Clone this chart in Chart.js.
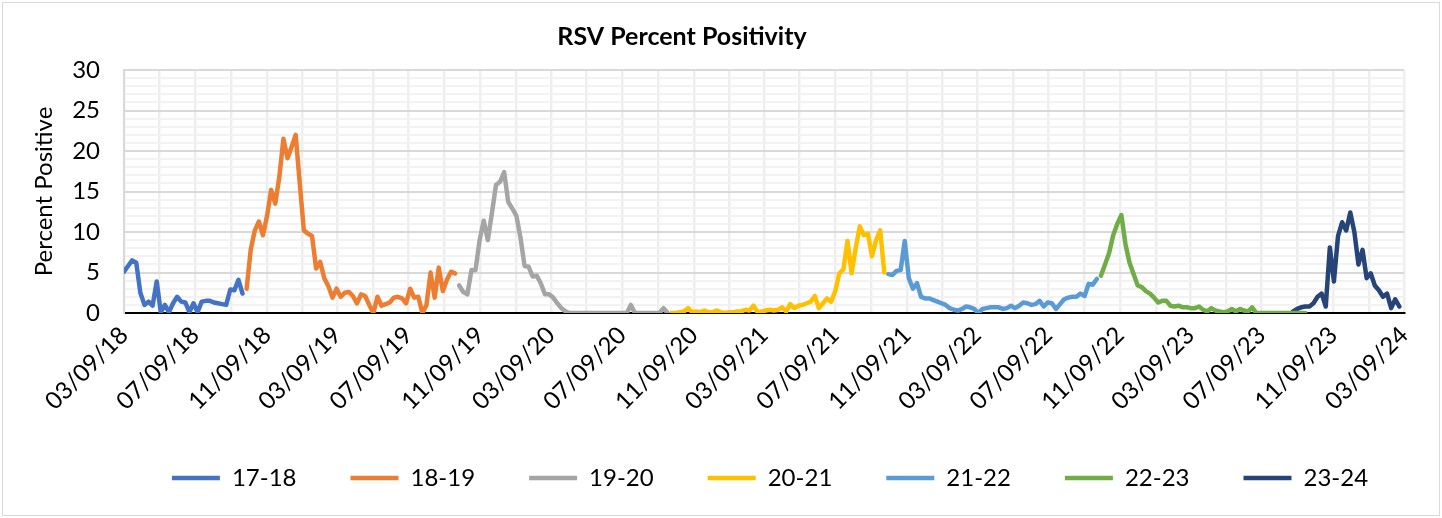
<!DOCTYPE html>
<html>
<head>
<meta charset="utf-8">
<script src="https://cdn.jsdelivr.net/npm/chart.js@4.4.1/dist/chart.umd.min.js"></script>
<style>
  html, body { margin: 0; padding: 0; background: #fff; }
  #wrap { position: relative; width: 1442px; height: 518px; }
  #frame { position: absolute; left: 2px; top: 2px; right: 2px; bottom: 2px; border: 1px solid #d9d9d9; pointer-events: none; }
</style>
</head>
<body>
<div id="wrap">
  <canvas id="rsv" width="1442" height="518"></canvas>
  <div id="frame"></div>
</div>
<script>
// ─── DATA ────────────────────────────────────────────────────────
// tanggal label sumbu X (MM/DD/YY), tiap 4 bulan
const xTickLabels = ['03/09/18','07/09/18','11/09/18','03/09/19','07/09/19','11/09/19',
  '03/09/20','07/09/20','11/09/20','03/09/21','07/09/21','11/09/21','03/09/22','07/09/22',
  '11/09/22','03/09/23','07/09/23','11/09/23','03/09/24'];

const seasons    = ['17-18','18-19','19-20','20-21','21-22','22-23','23-24'];
const colors     = ['#4472C4','#ED7D31','#A5A5A5','#FFC000','#5B9BD5','#70AD47','#264478'];
// minggu pertama tiap musim (dihitung dari 03/09/18)
const startWeeks = [0, 30, 82, 134, 187, 239, 286];

const pos1718 = [5.1, 5.8, 6.5, 6.2, 2.5, 1.0, 1.4, 0.9, 3.9, 0.1, 1.0, 0.1, 1.2, 2.0, 1.4,
  1.3, 0.1, 1.2, 0.1, 1.4, 1.5, 1.5, 1.3, 1.2, 1.1, 1.0, 2.9, 2.8, 4.1, 2.4];
const pos1819 = [3.0, 7.8, 10.2, 11.3, 9.6, 12.0, 15.2, 13.5, 16.8, 21.5, 19.1, 20.5, 22.0, 16.0,
  10.2, 9.8, 9.5, 5.5, 6.3, 4.3, 3.3, 1.9, 3.0, 2.0, 2.5, 2.6, 2.1, 1.2, 2.3, 2.1, 1.0, 0,
  2.0, 0.9, 1.1, 1.3, 1.9, 2.0, 1.8, 1.2, 3.0, 1.9, 2.0, 0, 1.0, 5.0, 1.9, 5.6, 2.7, 4.1, 5.1, 4.9];
const pos1920 = [3.4, 2.6, 2.3, 5.3, 5.3, 9.0, 11.4, 9.0, 12.3, 15.8, 16.2, 17.4, 13.7, 12.9,
  12.0, 9.3, 5.8, 5.7, 4.5, 4.6, 3.6, 2.3, 2.3, 1.9, 1.2, 0.6, 0.2, 0,
  0, 0, 0, 0, 0, 0, 0, 0, 0, 0, 0, 0, 0, 0, 1.0, 0, 0, 0, 0, 0, 0, 0, 0.6, 0];
const pos2021 = [0, 0, 0.1, 0.2, 0.6, 0.1, 0.2, 0.1, 0.3, 0.1, 0.1, 0.3, 0.1, 0, 0.1, 0.1, 0.2,
  0.2, 0.4, 0.3, 0.9, 0.1, 0.2, 0.3, 0.4, 0.3, 0.4, 0.7, 0.2, 1.1, 0.6, 0.9, 1.0, 1.2, 1.4, 2.1,
  0.6, 1.2, 1.8, 1.4, 2.7, 4.9, 5.4, 8.9, 4.9, 8.0, 10.7, 9.6, 9.8, 7.0, 9.0, 10.2, 5.0];
const pos2122 = [4.8, 4.7, 5.2, 5.3, 8.9, 4.3, 3.0, 3.7, 2.0, 1.8, 1.8, 1.6, 1.4, 1.2, 1.0, 0.6,
  0.4, 0.3, 0.5, 0.8, 0.7, 0.5, 0, 0.5, 0.6, 0.7, 0.7, 0.7, 0.5, 0.6, 0.9, 0.6, 0.9, 1.3, 1.2,
  1.0, 1.1, 1.5, 0.8, 1.3, 1.2, 0.5, 1.1, 1.7, 1.9, 2.0, 2.0, 2.4, 2.1, 3.6, 3.5, 4.2];
const pos2223 = [4.6, 6.0, 7.4, 9.6, 11.0, 12.1, 8.5, 6.2, 4.8, 3.4, 3.2, 2.7, 2.4, 1.9, 1.3,
  1.5, 1.5, 0.9, 0.8, 0.9, 0.7, 0.7, 0.6, 0.6, 0.8, 0.4, 0.2, 0.6, 0.3, 0.2, 0.1, 0.2, 0.5, 0.2,
  0.5, 0.3, 0.2, 0.7, 0, 0, 0, 0, 0, 0, 0, 0, 0, 0, 0, 0, 0];
const pos2324 = [0.2, 0.5, 0.7, 0.8, 0.8, 1.2, 2.0, 2.4, 0.8, 8.1, 3.9, 9.5, 11.2, 10.2, 12.4,
  10.0, 6.0, 7.8, 4.3, 4.9, 3.4, 2.8, 2.0, 2.4, 0.6, 1.7, 0.8];

const seriesValues = [pos1718, pos1819, pos1920, pos2021, pos2122, pos2223, pos2324];

// ─── HELPER TANGGAL ──────────────────────────────────────────────
const DAY = 86400000;
function parseDate(s) {
  const [m, d, y] = s.split('/').map(Number);
  return Date.UTC(2000 + y, m - 1, d);
}
const startDate = parseDate(xTickLabels[0]);
const dayOf = t => Math.round((t - startDate) / DAY);

// tick utama (berlabel) + tick tengah tiap 2 bulan (hanya garis grid)
const gridTicks = [];
xTickLabels.forEach((lbl, i) => {
  const t = parseDate(lbl);
  gridTicks.push({ value: dayOf(t), label: lbl });
  if (i < xTickLabels.length - 1) {
    const dt = new Date(t);
    const mid = Date.UTC(dt.getUTCFullYear(), dt.getUTCMonth() + 2, dt.getUTCDate());
    gridTicks.push({ value: dayOf(mid), label: '' });
  }
});
const xMax = dayOf(parseDate(xTickLabels[xTickLabels.length - 1]));

const datasets = seasons.map((name, i) => ({
  label: name,
  data: seriesValues[i].map((v, k) => ({ x: (startWeeks[i] + k) * 7, y: v })),
  borderColor: colors[i],
  backgroundColor: colors[i],
  borderWidth: 4.5,
  borderCapStyle: 'round',
  borderJoinStyle: 'round',
  pointRadius: 0,
  tension: 0
}));

// Legend di tengah area plot, judul sedikit ke kiri (seperti Excel)
const shiftBoxes = {
  id: 'shiftBoxes',
  afterLayout(chart) {
    const ca = chart.chartArea;
    const lg = chart.legend;
    if (lg) {
      // +24 untuk mengimbangi spasi ekstra di item terakhir
      const off = (ca.left + ca.right) / 2 + 24 - (lg.left + lg.right) / 2;
      lg.left += off;
      lg.right += off;
    }
    const tb = chart.titleBlock;
    if (tb) {
      const off = 682 - (tb.left + tb.right) / 2;
      tb.left += off;
      tb.right += off;
    }
  }
};

const FONT = 'Lato, "Open Sans", sans-serif';

new Chart(document.getElementById('rsv'), {
  type: 'line',
  data: { datasets },
  plugins: [shiftBoxes],
  options: {
    responsive: false,
    animation: false,
    layout: { padding: { left: 0, right: 38, top: 0, bottom: 18 } },
    plugins: {
      title: {
        display: true,
        text: 'RSV Percent Positivity',
        color: '#000',
        font: { family: FONT, size: 25, weight: 'bold' },
        padding: { top: 22, bottom: 18 }
      },
      legend: {
        position: 'bottom',
        labels: {
          usePointStyle: true,
          pointStyle: 'line',
          pointStyleWidth: 48,
          color: '#000',
          font: { family: FONT, size: 24 },
          padding: 18,
          // spasi ekstra di belakang teks supaya jarak antar item mirip aslinya
          generateLabels: chart => Chart.defaults.plugins.legend.labels.generateLabels(chart)
            .map(it => ({ ...it, text: it.text + '\u2003\u2003' }))
        }
      },
      tooltip: { enabled: false }
    },
    scales: {
      x: {
        type: 'linear',
        min: 0,
        max: xMax,
        afterBuildTicks: scale => { scale.ticks = gridTicks.map(t => ({ value: t.value })); },
        afterFit: scale => { scale.height = 135; },
        ticks: {
          autoSkip: false,
          minRotation: 45,
          maxRotation: 45,
          padding: 8,
          color: '#000',
          font: { family: FONT, size: 24 },
          callback: (v) => {
            const t = gridTicks.find(g => g.value === v);
            return t ? t.label : '';
          }
        },
        grid: { color: '#eeeeee', lineWidth: 2.5, drawTicks: false },
        border: { color: '#000', width: 2 }
      },
      y: {
        min: 0,
        max: 30,
        afterFit: scale => { scale.width = 124; },
        afterBuildTicks: scale => {
          const t = [];
          for (let v = 0; v <= 30; v++) t.push({ value: v });
          scale.ticks = t;
        },
        ticks: {
          autoSkip: false,
          stepSize: 1,
          padding: 24,
          color: '#000',
          font: { family: FONT, size: 24 },
          callback: v => (v % 5 === 0 ? v : '')
        },
        grid: {
          drawTicks: false,
          lineWidth: 2,
          color: ctx => (ctx.tick && ctx.tick.value % 5 === 0 ? '#d9d9d9' : '#f2f2f2')
        },
        border: { color: '#d9d9d9', width: 2 },
        title: {
          display: true,
          text: 'Percent Positive',
          color: '#000',
          font: { family: FONT, size: 24 },
          padding: { top: 30, bottom: 0 }
        }
      }
    }
  }
});
</script>
</body>
</html>
